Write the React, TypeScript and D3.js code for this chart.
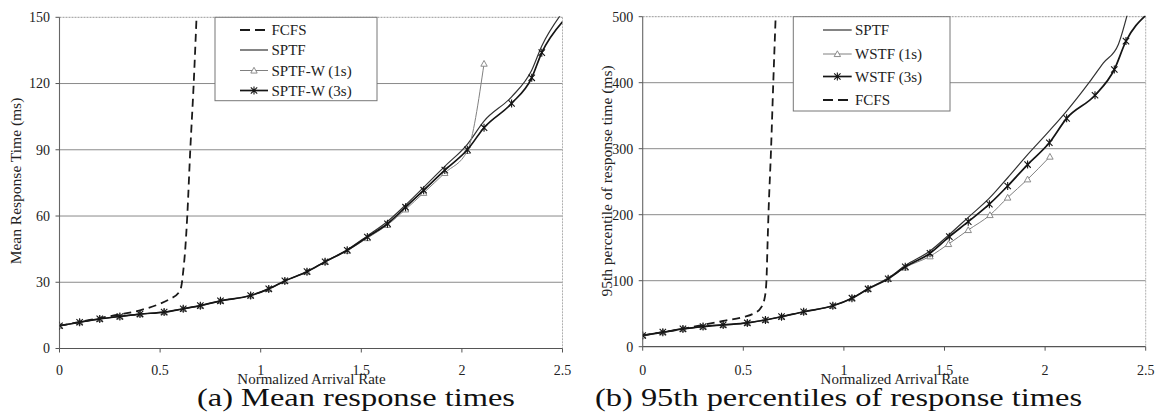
import React, { useEffect, useRef } from "react";
import * as d3 from "d3";

// ---------- Data: (a) Mean response times ----------
const xCommonA = [0, 0.1, 0.2, 0.3, 0.4, 0.52, 0.615, 0.7, 0.8, 0.95, 1.04, 1.12, 1.23, 1.32, 1.43, 1.53, 1.63, 1.72, 1.81, 1.915, 2.027, 2.11, 2.247, 2.347, 2.397, 2.5];
const sptfW3A = [10.3, 11.9, 13.4, 14.5, 15.6, 16.5, 18, 19.4, 21.6, 24, 27, 30.6, 34.8, 39.3, 44.5, 50.5, 56.5, 64, 71.7, 80.8, 90, 100, 111, 122.6, 134, 148];
const xSptfA = [0, 0.1, 0.2, 0.3, 0.4, 0.52, 0.615, 0.7, 0.8, 0.95, 1.04, 1.12, 1.23, 1.32, 1.43, 1.53, 1.63, 1.72, 1.81, 1.915, 2.027, 2.11, 2.247, 2.347, 2.397, 2.49];
const sptfA = [10.3, 11.9, 13.4, 14.5, 15.6, 16.5, 18, 19.4, 21.6, 24, 27, 30.6, 34.8, 39.3, 44.7, 51, 57.5, 65, 73, 82.5, 92.5, 103, 114, 126, 137, 151];
const xSptfW1A = [0, 0.1, 0.2, 0.3, 0.4, 0.52, 0.615, 0.7, 0.8, 0.95, 1.04, 1.12, 1.23, 1.32, 1.43, 1.53, 1.63, 1.72, 1.81, 1.915, 2.027, 2.11];
const sptfW1A = [10.3, 11.9, 13.4, 14.5, 15.6, 16.5, 18, 19.4, 21.6, 24, 27, 30.6, 34.8, 39.3, 44.3, 50, 56, 63, 70.5, 79.5, 89.5, 129];
const xFcfsA = [0, 0.1, 0.2, 0.3, 0.4, 0.5, 0.55, 0.59, 0.605, 0.615, 0.625, 0.635, 0.65, 0.667, 0.682];
const fcfsA = [10.3, 12, 13.8, 15.4, 17.3, 20.3, 22.5, 25, 28, 35, 45, 60, 90, 120, 152];
const yTicksA = [0, 30, 60, 90, 120, 150];

// ---------- Data: (b) 95th percentiles ----------
const xWstf3B = [0, 0.1, 0.2, 0.3, 0.4, 0.52, 0.61, 0.69, 0.8, 0.945, 1.04, 1.12, 1.22, 1.305, 1.428, 1.524, 1.618, 1.723, 1.814, 1.913, 2.021, 2.107, 2.248, 2.344, 2.402, 2.5];
const wstf3B = [17, 22, 27, 30.5, 33, 36, 40.5, 45.5, 53, 62, 73.5, 87.5, 103, 121, 141.5, 166.7, 189.5, 216, 243.5, 276, 309, 346, 381, 420, 463, 502];
const xSptfB = [0, 0.1, 0.2, 0.3, 0.4, 0.52, 0.61, 0.69, 0.8, 0.945, 1.04, 1.12, 1.22, 1.305, 1.428, 1.524, 1.618, 1.723, 1.814, 1.913, 2.021, 2.107, 2.223, 2.29, 2.364, 2.41];
const sptfB = [17, 22, 27, 30.5, 33, 36, 40.5, 45.5, 53, 62, 73.5, 88, 104, 123, 145, 170, 196, 225, 256, 291, 327, 357, 402, 430, 458, 505];
const xWstf1B = [0, 0.1, 0.2, 0.3, 0.4, 0.52, 0.61, 0.69, 0.8, 0.945, 1.04, 1.12, 1.22, 1.305, 1.428, 1.52, 1.618, 1.726, 1.814, 1.913, 2.024];
const wstf1B = [17, 22, 27, 30.5, 33, 36, 40.5, 45.5, 53, 62, 73.5, 87.5, 103, 120, 137, 155.6, 176.8, 199.5, 226, 253.6, 288];
const xFcfsB = [0, 0.1, 0.2, 0.3, 0.4, 0.5, 0.55, 0.585, 0.605, 0.615, 0.62, 0.625, 0.638, 0.649, 0.661];
const fcfsB = [17, 22, 27, 33, 39, 45, 50, 58, 72, 100, 150, 200, 300, 400, 502];
const yTicksB = [0, 100, 200, 300, 400, 500];

const xTicks = [0, 0.5, 1, 1.5, 2, 2.5];
const xTickLabels = ["0", "0.5", "1", "1.5", "2", "2.5"];

const FONT = "'Liberation Serif', 'Times New Roman', serif";

type Style = { stroke: string; width: number; dash?: string; marker?: "tri" | "star" };

const STY = {
  fcfs: { stroke: "#1a1a1a", width: 1.8, dash: "8,5" } as Style,
  sptf: { stroke: "#333", width: 1.2 } as Style,
  w1: { stroke: "#808080", width: 1, marker: "tri" } as Style,
  w3: { stroke: "#151515", width: 1.7, marker: "star" } as Style,
};

function zip(xs: number[], ys: number[]) {
  return xs.map((x, i) => ({ x, y: ys[i] }));
}

function drawMarker(g: any, kind: string, cx: number, cy: number, color: string) {
  if (kind === "tri") {
    const s = 3.2;
    g.append("path")
      .attr("d", `M${cx},${cy - s}L${cx + s},${cy + s * 0.8}L${cx - s},${cy + s * 0.8}Z`)
      .attr("fill", "white").attr("stroke", color).attr("stroke-width", 0.9);
  } else if (kind === "star") {
    const s = 3.2;
    g.append("path")
      .attr("d", `M${cx - s},${cy - s}L${cx + s},${cy + s}M${cx - s},${cy + s}L${cx + s},${cy - s}M${cx},${cy - s - 0.8}L${cx},${cy + s + 0.8}`)
      .attr("fill", "none").attr("stroke", color).attr("stroke-width", 1.1);
  }
}

type Panel = {
  id: string;
  x0: number; x1: number; yBot: number; yTop: number; yMax: number;
  yTicks: number[];
  series: { pts: { x: number; y: number }[]; sty: Style }[];
  yTitle: string; yTitleX: number;
  legend: { x0: number; x1: number; y0: number; y1: number; rows: number[]; sx0: number; sx1: number; tx: number; items: { label: string; sty: Style }[] };
  caption: string; capX0: number; capX1: number;
};

function drawPanel(svg: any, p: Panel) {
  const x = d3.scaleLinear().domain([0, 2.5]).range([p.x0, p.x1]);
  const y = d3.scaleLinear().domain([0, p.yMax]).range([p.yBot, p.yTop]);
  const g = svg.append("g");

  g.append("clipPath").attr("id", "clip" + p.id)
    .append("rect").attr("x", p.x0).attr("y", p.yTop - 1).attr("width", p.x1 - p.x0).attr("height", p.yBot - p.yTop + 1);

  // gridlines
  p.yTicks.forEach((t) => {
    if (t === 0) return;
    g.append("line").attr("x1", p.x0).attr("x2", p.x1).attr("y1", y(t)).attr("y2", y(t))
      .attr("stroke", t === p.yMax ? "#999" : "#8a8a8a").attr("stroke-width", 1)
      .attr("stroke-dasharray", t === p.yMax ? "2,1" : null);
  });
  // right border
  g.append("line").attr("x1", p.x1).attr("x2", p.x1).attr("y1", p.yTop).attr("y2", p.yBot)
    .attr("stroke", "#b0b0b0").attr("stroke-width", 1).attr("stroke-dasharray", "2,1");

  // axes
  g.append("line").attr("x1", p.x0).attr("x2", p.x1).attr("y1", p.yBot).attr("y2", p.yBot)
    .attr("stroke", "#555").attr("stroke-width", 1.2);
  g.append("line").attr("x1", p.x0).attr("x2", p.x0).attr("y1", p.yTop).attr("y2", p.yBot)
    .attr("stroke", "#666").attr("stroke-width", 1.1);

  xTicks.forEach((t, i) => {
    g.append("line").attr("x1", x(t)).attr("x2", x(t)).attr("y1", p.yBot).attr("y2", p.yBot + 4)
      .attr("stroke", "#555").attr("stroke-width", 1);
    g.append("text").attr("x", x(t)).attr("y", 375).attr("text-anchor", "middle")
      .attr("font-family", FONT).attr("font-size", 14).attr("fill", "#222").text(xTickLabels[i]);
  });
  p.yTicks.forEach((t) => {
    g.append("line").attr("x1", p.x0 - 4).attr("x2", p.x0).attr("y1", y(t)).attr("y2", y(t))
      .attr("stroke", "#555").attr("stroke-width", 1);
    g.append("text").attr("x", p.x0 - 9.5).attr("y", y(t)).attr("dy", "0.35em").attr("text-anchor", "end")
      .attr("font-family", FONT).attr("font-size", 14).attr("fill", "#222").text(String(t));
  });

  // axis titles
  g.append("text").attr("x", (p.x0 + p.x1) / 2 + 0.5).attr("y", 384).attr("text-anchor", "middle")
    .attr("font-family", FONT).attr("font-size", 15).attr("fill", "#222").text("Normalized Arrival Rate");
  g.append("text").attr("transform", `translate(${p.yTitleX},181) rotate(-90)`).attr("text-anchor", "middle")
    .attr("dy", "0.35em").attr("font-family", FONT).attr("font-size", 15.5).attr("fill", "#222").text(p.yTitle);

  // series
  const line = d3.line<{ x: number; y: number }>().x((d) => x(d.x)).y((d) => y(d.y)).curve(d3.curveMonotoneX);
  const sg = g.append("g").attr("clip-path", `url(#clip${p.id})`);
  p.series.forEach((s) => {
    sg.append("path").attr("d", line(s.pts)).attr("fill", "none").attr("stroke", s.sty.stroke)
      .attr("stroke-width", s.sty.width).attr("stroke-dasharray", s.sty.dash || null);
    if (s.sty.marker) {
      s.pts.filter((d) => d.x < 2.5).forEach((d) => drawMarker(sg, s.sty.marker as string, x(d.x), y(d.y), s.sty.stroke));
    }
  });

  // legend
  const L = p.legend;
  g.append("rect").attr("x", L.x0).attr("y", L.y0).attr("width", L.x1 - L.x0).attr("height", L.y1 - L.y0)
    .attr("fill", "white").attr("stroke", "#777").attr("stroke-width", 1);
  L.items.forEach((it, i) => {
    const ry = L.rows[i];
    g.append("line").attr("x1", L.sx0).attr("x2", L.sx1).attr("y1", ry).attr("y2", ry)
      .attr("stroke", it.sty.stroke).attr("stroke-width", it.sty.width)
      .attr("stroke-dasharray", it.sty.dash ? "10,5" : null);
    if (it.sty.marker) drawMarker(g, it.sty.marker, (L.sx0 + L.sx1) / 2, ry, it.sty.stroke);
    g.append("text").attr("x", L.tx).attr("y", ry).attr("dy", "0.35em")
      .attr("font-family", FONT).attr("font-size", 15).attr("fill", "#222").text(it.label);
  });

  // caption
  g.append("text").attr("x", p.capX0).attr("y", 406).attr("textLength", p.capX1 - p.capX0)
    .attr("lengthAdjust", "spacingAndGlyphs").attr("font-family", FONT).attr("font-size", 25)
    .attr("fill", "#111").text(p.caption);
}

export default function App() {
  const ref = useRef<SVGSVGElement>(null);
  useEffect(() => {
    const svg = d3.select(ref.current);
    svg.selectAll("*").remove();
    drawPanel(svg, {
      id: "a", x0: 59.5, x1: 562.5, yBot: 348.5, yTop: 17.3, yMax: 150, yTicks: yTicksA,
      series: [
        { pts: zip(xSptfA, sptfA), sty: STY.sptf },
        { pts: zip(xSptfW1A, sptfW1A), sty: STY.w1 },
        { pts: zip(xCommonA, sptfW3A), sty: STY.w3 },
        { pts: zip(xFcfsA, fcfsA), sty: STY.fcfs },
      ],
      yTitle: "Mean Response Time (ms)", yTitleX: 16,
      legend: {
        x0: 215, x1: 377, y0: 17.3, y1: 100.7, rows: [30, 50, 70.5, 90.5], sx0: 240, sx1: 268, tx: 271.5,
        items: [
          { label: "FCFS", sty: STY.fcfs },
          { label: "SPTF", sty: STY.sptf },
          { label: "SPTF-W (1s)", sty: STY.w1 },
          { label: "SPTF-W (3s)", sty: STY.w3 },
        ],
      },
      caption: "(a) Mean response times", capX0: 197, capX1: 515,
    });
    drawPanel(svg, {
      id: "b", x0: 642.7, x1: 1145.7, yBot: 346.7, yTop: 16.7, yMax: 500, yTicks: yTicksB,
      series: [
        { pts: zip(xSptfB, sptfB), sty: STY.sptf },
        { pts: zip(xWstf1B, wstf1B), sty: STY.w1 },
        { pts: zip(xWstf3B, wstf3B), sty: STY.w3 },
        { pts: zip(xFcfsB, fcfsB), sty: STY.fcfs },
      ],
      yTitle: "95th percentile of response time (ms)", yTitleX: 607,
      legend: {
        x0: 793.3, x1: 950, y0: 16.7, y1: 111, rows: [30, 54, 76.5, 100], sx0: 823, sx1: 851.7, tx: 855,
        items: [
          { label: "SPTF", sty: STY.sptf },
          { label: "WSTF (1s)", sty: STY.w1 },
          { label: "WSTF (3s)", sty: STY.w3 },
          { label: "FCFS", sty: STY.fcfs },
        ],
      },
      caption: "(b) 95th percentiles of response times", capX0: 595, capX1: 1082,
    });
  }, []);
  return (
    <div style={{ position: "absolute", left: 0, top: 0 }}>
      <svg ref={ref} width={1158} height={415} style={{ display: "block", background: "white" }} />
    </div>
  );
}
